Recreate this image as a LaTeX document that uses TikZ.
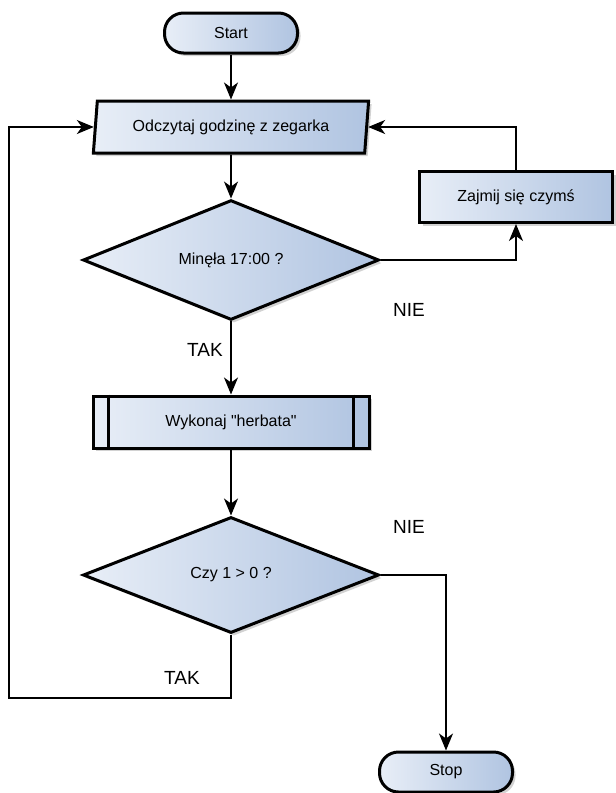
\documentclass[tikz,border=0pt]{standalone}
\usepackage{fontspec}
\setmainfont{Liberation Sans}
\usepackage{tikz}
\usetikzlibrary{arrows.meta,positioning,shapes.geometric,shadows,calc}
\definecolor{boxlight}{RGB}{232,238,247}
\definecolor{boxdark}{RGB}{176,196,225}
\tikzset{
  base/.style={draw, line width=3pt, align=center, inner sep=0pt,
    left color=boxlight, right color=boxdark,
    drop shadow={shadow xshift=3pt, shadow yshift=-3pt, opacity=0.35},
    font=\fontsize{16}{19}\selectfont},
  term/.style={base, rectangle, rounded corners=19pt, minimum width=133pt, minimum height=40pt},
  io/.style={base, trapezium, trapezium left angle=79, trapezium right angle=101,
    trapezium stretches=true, minimum width=276pt, minimum height=52pt},
  proc/.style={base, rectangle, minimum width=193pt, minimum height=51pt},
  sub/.style={base, rectangle, minimum width=276pt, minimum height=52pt},
  dec/.style={base, diamond, minimum width=296pt, minimum height=116pt},
  lbl/.style={font=\fontsize{19}{22}\selectfont, inner sep=0pt},
  arrow/.style={-{Stealth[length=17pt,width=14pt,inset=5pt]}, line width=1.6pt}
}
\begin{document}
\begin{tikzpicture}[x=1pt, y=-1pt]
    \useasboundingbox[fill=white] (0,0) rectangle (616,793);
    % Shapes of the chart
    \node[term] (start) at (231,33) {Start};
    \node[io] (read) at (231,127) {Odczytaj godzinę z zegarka};
    \node[proc] (busy) at (516,197) {Zajmij się czymś};
    \node[dec] (q1) at (231,260) {Minęła 17:00 ?};
    \node[sub] (tea) at (231,422) {Wykonaj \textquotedbl herbata\textquotedbl};
    \node[dec] (q2) at (231,575) {Czy 1 > 0 ?};
    \node[term] (stop) at (446,772) {Stop};
    % Double side bars of the subprocess
    \draw[line width=3pt] ([xshift=17pt]tea.north west) -- ([xshift=17pt]tea.south west);
    \draw[line width=3pt] ([xshift=-17pt]tea.north east) -- ([xshift=-17pt]tea.south east);
    % Labels (NIE to the right, TAK below)
    \node[lbl] (nie1) at (409,310) {NIE};
    \node[lbl] (tak1) at (205,350) {TAK};
    \node[lbl] (nie2) at (409,527) {NIE};
    \node[lbl] (tak2) at (182,678) {TAK};
    % Connectors
    \draw[arrow] (start) -- (read);
    \draw[arrow] (read) -- (q1);
    \draw[arrow] (q1.east) -| (busy.south);
    \draw[arrow] (busy.north) |- (read.east);
    \draw[arrow] (q1) -- (tea);
    \draw[arrow] (tea) -- (q2);
    \draw[arrow] (q2.east) -| (stop.north);
    \coordinate (back) at (9,698);
    \draw[arrow] (q2.south) |- (back) |- (read.west);
  \end{tikzpicture}
\end{document}
